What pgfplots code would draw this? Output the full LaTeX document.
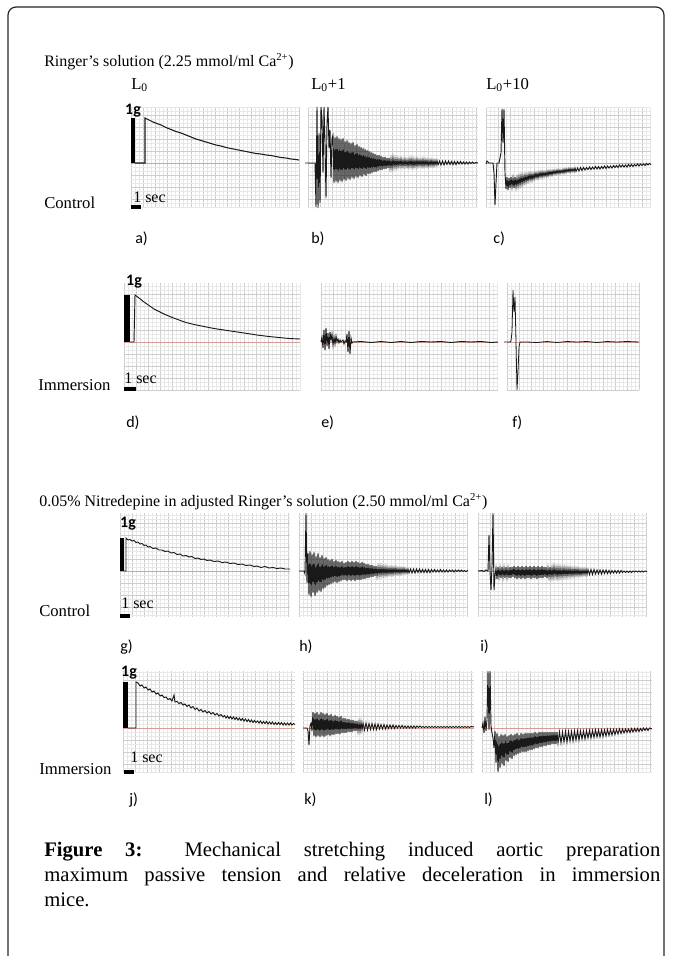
\documentclass[border=0pt]{standalone}
\usepackage{fontspec}
\setmainfont{Liberation Serif}
\newfontfamily\calib{Carlito}
\usepackage{pgfplots}
\pgfplotsset{compat=1.18}
\definecolor{gridmaj}{RGB}{205,205,205}
\definecolor{gridmin}{RGB}{232,232,232}
\definecolor{basered}{RGB}{212,160,145}
\definecolor{trace}{RGB}{25,25,25}
\pgfplotsset{panel/.style={scale only axis, anchor=north west, clip=false,
  axis line style={draw=none}, tick style={draw=none}, major tick length=0pt, minor tick length=0pt,
  xticklabels={}, yticklabels={}, grid=both, xtick distance=12, ytick distance=12, minor tick num=2,
  major grid style={draw=gridmaj, line width=0.5pt}, minor grid style={draw=gridmin, line width=0.35pt},
  xmin=0}}
\tikzset{lab/.style={inner sep=0pt, anchor=west}}
\begin{document}
\begin{tikzpicture}[x=0.75pt,y=-0.75pt]
\path[use as bounding box] (0,0) rectangle (672,956);
\draw[line width=0.9pt, black!85, rounded corners=6pt] (8,956) -- (8,7) -- (664,7) -- (664,956);

% ================= panel a
\begin{axis}[panel, at={(98.25pt,-80.25pt)}, width=126pt, height=75.75pt, xmax=168, ymin=-45, ymax=56]
\addplot[basered, line width=0.5pt] coordinates {(0,0)(168,0)};
\addplot[black, line width=3pt] coordinates {(2,0)(2,45)};
\addplot[black, line width=3pt] coordinates {(0,-44)(10,-44)};
\addplot[trace, line width=0.8pt] coordinates {(4,0)(14,0)(14,45)(18,43)(22,41)(26,39.5)(30,38)(35,35.5)(40,33.5)(45,31.5)(50,30)(55,28)(60,26)(65,24)(70,22.5)(75,21)(80,19.5)(85,18)(90,17)(95,15.5)(100,14.5)(105,13.5)(110,12.5)(115,11.5)(120,10.5)(125,9.5)(130,9)(135,8)(140,7.5)(145,6.5)(150,5.5)(155,5)(160,4)(165,3.5)(168,3)};
\end{axis}
% ================= panel b
\begin{axis}[panel, at={(231pt,-80.25pt)}, width=127.5pt, height=75.75pt, xmax=170, ymin=-45, ymax=56]
\addplot[basered, line width=0.5pt] coordinates {(0,0)(170,0)};
\addplot[trace, line width=0.7pt] coordinates {(-3,0)(7,0)(8,-44)(9,56)(10,-45)(11,30)(12,-40)(13,56)(14,45)(15,-10)(16,56)(17,20)(18,-35)(19,40)(20,56)(21,15)(22,33)(23,-15)(24,25)
(25,28)(26,-20)(27,26)(28,-19)(29,27)(30,-20)(31,25)(32,-18)(33,24)(34,-19)(35,25)(36,-17)(37,22)(38,-18)(39,23)(40,-16)(41,21)(42,-17)(43,20)(44,-15)(45,21)(46,-16)(47,18)(48,-14)(49,19)(50,-15)(51,17)(52,-13)(53,16)(54,-14)(55,15)(56,-12)(57,14)(58,-13)(59,13)(60,-11)(61,12)(62,-11)(63,11)(64,-10)(65,10)(66,-9)(67,9)(68,-9)(69,8)(70,-8)(71,8)(72,-7)(73,7)(74,-7)(75,6)(76,-6)(77,6)(78,-6)(79,5)(80,-5)(81,5)(82,-5)(83,4)(84,-5)(85,5)(86,-4)(87,4)(88,-4)(89,4)
(90,-3.5)(91,3.5)(92,-3)(93,4)(94,-3.5)(95,3)(96,-3)(97,3.5)(98,-3)(99,3)(100,-3.5)(101,3.5)(102,-3)(103,4)(104,-3.5)(105,3.5)(106,-3.5)(107,3)(108,-3)(109,3.5)(110,-3)(111,3)(112,-2.5)(113,3)(114,-3)(115,3.5)(116,-3)(117,3)(118,-2.5)(119,3)(120,-3)(121,2.5)(122,-2.5)(123,3)(124,-2.5)(125,2.5)(126,-2.5)(127,2.5)(128,-2)(129,2.5)(130,-2)
(131.5,2)(133,-2)(134.5,2)(136,-2)(137.5,2)(139,-1.5)(140.5,2)(142,-1.5)(143.5,1.5)(145,-1.5)(146.5,1.5)(148,-1.5)(149.5,1.5)(151,-1)(152.5,1.5)(154,-1)(155.5,1)(157,-1)(158.5,1)(160,-1)(161.5,1)(163,-0.5)(164.5,1)(166,-0.5)(167.5,0.5)(170,0)};
\end{axis}
% ================= panel c
\begin{axis}[panel, at={(364.5pt,-80.25pt)}, width=123.75pt, height=75.75pt, xmax=165, ymin=-45, ymax=56]
\addplot[basered, line width=0.5pt] coordinates {(0,0)(165,0)};
\addplot[trace, line width=0.7pt] coordinates {(0,-1)(1,2)(3,0)(7,0)(8,-10)(9,-42)(10,-20)(11,0)(13,0)(15,10)(16,54)(17,20)(18,54)(19,-10)
(20,-26)(21,-14)(22,-27)(23,-15)(24,-25)(25,-14)(26,-24)(27,-15)(28,-25)(29,-14)(30,-24)(31,-15)(32,-23)(33,-14)(34,-22)(35,-13)(36,-21)(37,-13)(38,-20)(39,-12)(40,-19)(41,-12)(42,-18)(43,-11)(44,-17)(45,-11)(46,-17)(47,-11)(48,-16)(49,-10)(50,-15)(51,-10)(52,-15)(53,-9.5)(54,-14)(55,-9)(56,-14)(57,-9)(58,-13.5)(59,-9)(60,-13)(61,-8.5)(62,-13)(63,-8)(64,-12)(65,-8)(66,-12)(67,-7.5)(68,-11)(69,-7.5)(70,-11)(71,-7)(72,-10.5)(73,-7)(74,-10.5)(75,-7)(76,-10)(77,-6.5)(78,-10)(79,-6)(80,-9.5)(81,-6)(82,-9)(83,-5.5)(84,-9)(85,-5.5)(86,-8.5)(87,-5.5)(88,-8.5)(89,-5)(90,-8.5)(91.5,-5)(93,-8)(94.5,-4.5)(96,-7.5)(97.5,-4.5)(99,-7)(100.5,-4.5)(102,-6.5)(103.5,-4)(105,-6.5)(106.5,-4)(108,-6)(109.5,-3.5)(111,-6)(112.5,-3.5)(114,-6)(115.5,-3.5)(117,-5.5)(118.5,-3)(120,-5.5)(121.5,-3)(123,-5)(124.5,-3)(126,-5)(127.5,-2.5)(129,-4.5)(130.5,-2.5)(132,-4.5)(133.5,-2)(135,-4)(136.5,-2)(138,-4)(139.5,-2)(141,-4)(142.5,-1.5)(144,-3.5)(145.5,-1.5)(147,-3.5)(148.5,-1.5)(150,-3)(151.5,-1)(153,-3)(154.5,-1)(156,-2.5)(157.5,-1)(159,-2.5)(160.5,-0.5)(162,-2)(163.5,-0.5)(165,-1.5)};
\end{axis}
% ================= panel d
\begin{axis}[panel, at={(93pt,-212.25pt)}, width=132pt, height=80.25pt, xmax=176, ymin=-48, ymax=59]
\addplot[basered, line width=0.5pt] coordinates {(0,0)(176,0)};
\addplot[black, line width=4.5pt] coordinates {(3,0)(3,47)};
\addplot[black, line width=3pt] coordinates {(0,-47)(12,-47)};
\addplot[trace, line width=0.7pt] coordinates {(6,0)(10,0)(11,47)(15,44)(20,40)(25,36.5)(30,33)(35,30.5)(40,28)(47,25)(55,22)(62,19.5)(70,17.5)(80,15.5)(90,13.5)(100,12)(110,10.5)(120,9)(133,7)(145,5.5)(155,4.5)(165,3.5)(176,3)};
\end{axis}
% ================= panel e
\begin{axis}[panel, at={(240.75pt,-212.25pt)}, width=132.75pt, height=80.25pt, xmax=177, ymin=-48, ymax=59]
\addplot[basered, line width=0.5pt] coordinates {(0,0)(177,0)};
\addplot[trace, line width=0.7pt] coordinates {(0,0)(1,5)(2,-6)(3,12)(4,-8)(5,14)(6,-4)(7,9)(8,-7)(9,10)(10,2)(11,8)(12,-3)(13,5)(14,-2)(15,6)(16,0)(17,3)(18,-1)(19,2)(20,0)(22,2)(23,-2)(24,1)(25,0)(26,8)(27,-10)(28,11)(29,-12)(30,4)(31,-1)(32,0)(40,0.5)(50,-0.5)(60,0.5)(70,-0.5)(80,0.5)(90,-0.5)(100,0.5)(110,0)(120,0.5)(130,-0.5)(140,0.5)(150,0)(160,0.5)(170,-0.5)(177,0)};
\end{axis}
% ================= panel f
\begin{axis}[panel, at={(380.25pt,-212.25pt)}, width=99pt, height=80.25pt, xmax=132, ymin=-48, ymax=59]
\addplot[basered, line width=0.5pt] coordinates {(0,0)(132,0)};
\addplot[trace, line width=0.6pt] coordinates {(-3,0)(3,0)(4,1)(5,10)(6,52)(7,30)(8,45)(9,0)(10,-48)(11,-30)(12,-5)(13,0)(20,0)(30,-0.5)(40,0.5)(50,-0.5)(60,0.5)(70,0)(80,0.5)(90,-0.5)(100,0.5)(110,0)(120,0.5)(132,0)};
\end{axis}
% ================= panel g
\begin{axis}[panel, at={(90pt,-384.75pt)}, width=127.5pt, height=78pt, xmax=170, ymin=-46, ymax=58]
\addplot[basered, line width=0.5pt] coordinates {(0,0)(170,0)};
\addplot[black, line width=3pt] coordinates {(2,0)(2,33)};
\addplot[black, line width=3pt] coordinates {(0,-45)(10,-45)};
\addplot[trace, line width=0.7pt] coordinates {(4,0)(6,0)(6,33)(8,31)(10,31.5)(12,30)(14,30.5)(16,28.5)(18,29)(20,27)(22,27.5)(24,25.5)(26,26)(28,24)(30,24.5)(33,22.5)(36,23)(39,21)(42,21)(45,19.5)(48,20)(51,18)(54,18.5)(57,16.5)(60,17)(63,15)(66,15.5)(69,14)(72,14.5)(75,12.5)(78,13)(81,11.5)(84,12)(87,10.5)(90,11)(94,9.5)(98,10)(102,8.5)(106,9)(110,7.5)(114,8)(118,6.5)(122,7)(126,5.5)(130,6)(134,4.5)(137,5)(141,3.5)(145,4.5)(149,3)(153,3.5)(157,2.5)(161,3)(165,2)(170,2)};
\end{axis}
% ================= panel h
\begin{axis}[panel, at={(224.25pt,-384.75pt)}, width=126.75pt, height=78pt, xmax=169, ymin=-46, ymax=58]
\addplot[basered, line width=0.5pt] coordinates {(0,0)(169,0)};
\addplot[trace, line width=0.7pt] coordinates {(0,0)(5,0)(6,-3)(7,58)(8,-12)(9,18)(10,-24)(11,20)(12,-26)(13,17)(14,-22)(15,19)(16,-25)(17,15)(18,-22)(19,18)(20,-20)(21,14)(22,-21)(23,16)(24,-18)(25,13)(26,-17)(27,14)(28,-15)(29,12)(30,-14)(31,11)(32,-13)(33,12)(34,-12)(35,10)(36,-11)(37,11)(38,-12)(39,10)(40,-11)(41,9)(42,-10)(43,10)(44,-9)(45,8)(46,-9)(47,9)(48,-10)(49,10)(50,-9)(51,9)(52,-10)(53,10)(54,-9)(55,9)(56,-10)(57,10)(58,-9)(59,9)(60,-9)(61,8)(62,-9)(63,9)(64,-8)(65,8)(66,-8)(67,7)(68,-7)(69,7)(70,-7)(71,6)(72,-6)(73,6)(74,-6)(75,5)(76,-5)(77,5)(78,-5)(79,4)
(80,-4)(81,4)(82,-4)(83,4)(84,-3.5)(85,3.5)(86,-3.5)(87,3.5)(88,-3.5)(89,3)(90,-3)(91,3)(92,-3)(93,3)(94,-3)(95,3)(96,-2.5)(97,3)(98,-2.5)(99,2.5)(100,-2.5)(101,2.5)(102,-2.5)(103,2.5)(104,-2)(105,2.5)(106,-2)(107,2)(108,-2)(109,2)(110,-2)
(111.5,2)(113,-2)(114.5,2)(116,-2)(117.5,2)(119,-1.5)(120.5,2)(122,-1.5)(123.5,1.5)(125,-1.5)(126.5,1.5)(128,-1.5)(129.5,1.5)(131,-1.5)(132.5,1.5)(134,-1)(135.5,1.5)(137,-1)(138.5,1)(140,-1)(141.5,1.5)(143,-1)(144.5,1)(146,-1)(147.5,1)(149,-1)(150.5,1)(152,-0.5)(153.5,1)(155,-1)(156.5,1)(158,-0.5)(159.5,1)(161,-0.5)(162.5,1)(164,-0.5)(165.5,0.5)(167,-0.5)(169,0.5)};
\end{axis}
% ================= panel i
\begin{axis}[panel, at={(358.5pt,-384.75pt)}, width=126.75pt, height=78pt, xmax=169, ymin=-46, ymax=58]
\addplot[basered, line width=0.5pt] coordinates {(0,0)(169,0)};
\addplot[trace, line width=0.7pt] coordinates {(0,0)(4,0.5)(6,-0.5)(8,1)(10,0)(11,36)(12,0)(13,-19)(14,5)(15,58)(16,-19)(17,-5)(18,3)(19,-8)(20,4)(21,-6)(22,3)(23,-7)(24,4)(25,-6)(26,3)(27,-7)(28,4)(29,-6)(30,3)(31,-7)(32,4)(33,-7)(34,4)(35,-6)(36,5)(37,-7)(38,4)(39,-8)(40,5)(41,-7)(42,4)(43,-8)(44,5)(45,-7)(46,4)(47,-8)(48,5)(49,-7)(50,4)(51,-7)(52,5)(53,-8)(54,4)(55,-7)(56,5)(57,-7)(58,4)(59,-8)(60,5)(61,-7)(62,4)(63,-7)(64,5)(65,-7)(66,4)(67,-6)(68,4)(69,-7)(70,3)(71,-6)(72,4)(73,-6)(74,3)(75,-6)(76,4)(77,-5)(78,3)(79,-6)
(80,3)(81,-5.5)(82,3)(83,-5.5)(84,2.5)(85,-5)(86,3)(87,-5)(88,2.5)(89,-5)(90,2.5)(91,-4.5)(92,2.5)(93,-4.5)(94,2)(95,-4.5)(96,2)(97,-4)(98,2)(99,-4)(100,2)(101,-4)(102,1.5)(103,-4)(104,1.5)(105,-3.5)(106,1.5)(107,-3.5)(108,1.5)(109,-3.5)(110,1.5)
(111.5,-3.5)(113,1.5)(114.5,-3.5)(116,1.5)(117.5,-3)(119,1)(120.5,-3)(122,1)(123.5,-3)(125,1)(126.5,-2.5)(128,1)(129.5,-2.5)(131,0.5)(132.5,-2.5)(134,0.5)(135.5,-2)(137,0.5)(138.5,-2)(140,0.5)(141.5,-2)(143,0.5)(144.5,-1.5)(146,0)(147.5,-1.5)(149,0)(150.5,-1.5)(152,0)(153.5,-1.5)(155,0)(156.5,-1)(158,0)(159.5,-1)(161,0)(162.5,-1)(164,0)(165.5,-1)(167,0)(169,-0.5)};
\end{axis}
% ================= panel j
\begin{axis}[panel, at={(92.25pt,-503.25pt)}, width=129pt, height=76.5pt, xmax=172, ymin=-45, ymax=57]
\addplot[basered, line width=0.5pt] coordinates {(0,0)(172,0)};
\addplot[black, line width=3.5pt] coordinates {(2.5,0)(2.5,46)};
\addplot[black, line width=3pt] coordinates {(1,-44)(11,-44)};
\addplot[trace, line width=0.7pt] coordinates {(5,0)(13,0)(13,46)(15,45)(17,42)(19,43)(21,40)(23,41)(25,38)(27,39)(29,36)(31,37)(33,34)(35,35)(37,32)(39,33)(41,30.5)(43,31)(45,28.5)(47,29.5)(49,27)(51,33)(52,26)(54,26.5)(56,24.5)(58,25.5)(60,23)(62,24)(64,21.5)(66,23)(68,20)(70,21.5)(72,18.5)(74,20)(76,17)(78,18.5)(80,16)(82,17.5)(84,15)(86,16.5)(88,14)(90,15.5)(92,13)(94,14.5)(96,12)(98,13.5)(100,11)(101.5,12.5)(103,10)(104.5,12)(106,9.5)(107.5,11.5)(109,9)(110.5,11)(112,8.5)(113.5,10.5)(115,8)(116.5,10)(118,7.5)(119.5,9.5)(121,7)(122.5,9)(124,6.5)(125.5,8.5)(127,6)(128.5,8)(130,5.5)(131.5,7.5)(133,5.5)(134.5,7)(136,5)(137.5,7)(139,4.5)(140.5,6.5)(142,4.5)(143.5,6.5)(145,4)(146.5,6)(148,4)(149.5,6)(151,3.5)(152.5,5.5)(154,3.5)(155.5,5.5)(157,3.5)(158.5,5.5)(160,3)(161.5,5)(163,3)(164.5,5)(166,3)(167.5,5)(169,3)(170.5,4.5)(172,3.5)};
\end{axis}
% ================= panel k
\begin{axis}[panel, at={(227.25pt,-503.25pt)}, width=128.25pt, height=76.5pt, xmax=171, ymin=-45, ymax=57]
\addplot[basered, line width=0.5pt] coordinates {(0,0)(171,0)};
\addplot[trace, line width=0.7pt] coordinates {(0,0)(4,0)(5,-3)(6,-17)(7,2)(8,5)(9,-3)(10,16)(11,-8)(12,15)(13,-9)(14,16)(15,-8)(16,14)(17,-9)(18,16)(19,-8)(20,15)(21,-9)(22,14)(23,-8)(24,15)(25,-7)(26,13)(27,-8)(28,14)(29,-7)(30,12)(31,-7)(32,13)(33,-6)(34,12)(35,-6)(36,11)(37,-6)(38,12)(39,-5)(40,10)(41,-5)(42,10)(43,-5)(44,9)(45,-4)(46,9)(47,-4)(48,8)(49,-4)(50,8)(51,-3)(52,7)(53,-3)(54,7)(55,-3)(56,6)(57,-3)(58,6)(59,-2)
(60,5)(61.5,-2)(63,5)(64.5,-2)(66,4.5)(67.5,-1.5)(69,4.5)(70.5,-1.5)(72,4)(73.5,-1.5)(75,4)(76.5,-1)(78,3.5)(79.5,-1)(81,3.5)(82.5,-1)(84,3)(85.5,-0.5)(87,3)(88.5,-0.5)(90,3)(91.5,-0.5)(93,2.5)(94.5,0)(96,2.5)(97.5,0)(99,2.5)(100.5,0)(102,2)(103.5,0)(105,2)(106.5,0)(108,2)(109.5,0)(111,2)(112.5,0)(114,2)(115.5,0.5)(117,2)(118.5,0.5)(120,1.5)(121.5,0.5)(123,1.5)(124.5,0.5)(126,1.5)(127.5,0.5)(129,1.5)(130.5,0.5)(132,1.5)(133.5,0.5)(135,1.5)(136.5,0.5)(138,1.5)(139.5,0.5)(141,1.5)(142.5,0.5)(144,1.5)(145.5,0.5)(147,1.5)(148.5,0.5)(150,1.5)(151.5,0.5)(153,1.5)(154.5,0.5)(156,1.5)(157.5,0.5)(159,1.5)(160.5,0.5)(162,1.5)(163.5,0.5)(165,1.5)(166.5,0.5)(168,1.5)(171,1)};
\end{axis}
% ================= panel l
\begin{axis}[panel, at={(361.5pt,-503.25pt)}, width=127.5pt, height=76.5pt, xmax=170, ymin=-45, ymax=57]
\addplot[basered, line width=0.5pt] coordinates {(0,0)(170,0)};
\addplot[trace, line width=0.7pt] coordinates {(0,0)(1,5)(2,-5)(3,11)(4,-3)(5,8)(6,57)(7,-2)(8,57)(9,2)(10,-5)(11,-10)(12,-20)(13,-3)(14,-35)(15,-5)(16,-44)(17,-8)(18,-40)(19,-6)(20,-36)(21,-7)(22,-38)(23,-6)(24,-33)(25,-8)(26,-34)(27,-7)(28,-30)(29,-6)(30,-31)(31,-7)(32,-28)(33,-6)(34,-27)(35,-5)(36,-26)(37,-7)(38,-25)(39,-5)(40,-24)(41,-6)(42,-24)(43,-5)(44,-24)(45,-5)(46,-23)(47,-5)(48,-22)(49,-5)(50,-22)(51,-5)(52,-21)(53,-4)(54,-20)(55,-5)(56,-20)(57,-4)(58,-19)(59,-4)(60,-19)(61,-4)(62,-18)(63,-4)(64,-18)(65,-4)(66,-17)(67,-4)(68,-17)(69,-4)(70,-16)(71,-4)(72,-16)(73,-4)(74,-16)(75,-4)
(76,-15)(77.5,-4)(79,-15)(80.5,-4)(82,-14)(83.5,-3.5)(85,-14)(86.5,-3.5)(88,-13)(89.5,-3.5)(91,-13)(92.5,-3)(94,-12)(95.5,-3)(97,-12)(98.5,-3)(100,-11)(101.5,-3)(103,-11)(104.5,-2.5)(106,-10)(107.5,-2.5)(109,-10)(110.5,-2.5)(112,-9.5)(113.5,-2)(115,-9)(116.5,-2)(118,-9)(119.5,-2)(121,-8.5)(122.5,-2)(124,-8)(125.5,-1.5)(127,-7.5)(128.5,-1.5)(130,-7)(131.5,-1.5)(133,-6.5)(134.5,-1.5)(136,-6)(137.5,-1)(139,-5.5)(140.5,-1)(142,-5)(143.5,-1)(145,-4.5)(146.5,-1)(148,-4.5)(149.5,-0.5)(151,-4)(152.5,-0.5)(154,-3.5)(155.5,-0.5)(157,-3.5)(158.5,-0.5)(160,-3)(161.5,0)(163,-2.5)(164.5,0)(166,-2.5)(167.5,0)(170,-1)};
\end{axis}

% ---------- titles and labels (drawn on top)
\node[lab, font=\fontsize{12}{14}\selectfont] at (44,62) {Ringer's solution (2.25 mmol/ml Ca\textsuperscript{2+})};
\node[lab, font=\fontsize{12.5}{15}\selectfont] at (131,85) {L\textsubscript{0}};
\node[lab, font=\fontsize{12.5}{15}\selectfont] at (311,85) {L\textsubscript{0}+1};
\node[lab, font=\fontsize{12.5}{15}\selectfont] at (486,85) {L\textsubscript{0}+10};
\node[lab, font=\fontsize{12.5}{15}\selectfont] at (44,203) {Control};
\node[lab, font=\fontsize{12.5}{15}\selectfont] at (38,385) {Immersion};
\node[lab, font=\fontsize{12}{14}\selectfont] at (39,502) {0.05\% Nitredepine in adjusted Ringer's solution (2.50 mmol/ml Ca\textsuperscript{2+})};
\node[lab, font=\fontsize{12.5}{15}\selectfont] at (39,611) {Control};
\node[lab, font=\fontsize{12.5}{15}\selectfont] at (39,769) {Immersion};
\node[inner sep=0pt, font=\calib\bfseries\fontsize{12}{14}\selectfont] at (133,111) {1g};
\node[inner sep=0pt, font=\calib\bfseries\fontsize{12}{14}\selectfont] at (134,282) {1g};
\node[inner sep=0pt, font=\calib\bfseries\fontsize{12}{14}\selectfont] at (128,524) {1g};
\node[inner sep=0pt, font=\calib\bfseries\fontsize{12}{14}\selectfont] at (129,673) {1g};
\node[lab, font=\fontsize{12}{14}\selectfont] at (133,197) {1 sec};
\node[lab, font=\fontsize{12}{14}\selectfont] at (124,378) {1 sec};
\node[lab, font=\fontsize{12}{14}\selectfont] at (121,603) {1 sec};
\node[lab, font=\fontsize{12}{14}\selectfont] at (130,757) {1 sec};
\foreach \t/\x/\y in {a)/135/239, b)/311/239, c)/493/239, d)/126/423, e)/321/423, f)/512/423, g)/120/647, h)/299/647, i)/480/647, j)/129/800, k)/304/800, l)/484/800}
  \node[lab, font=\calib\fontsize{12}{14}\selectfont] at (\x,\y) {\t};
\node[lab, font=\fontsize{15.5}{18}\selectfont] at (44,852) {\makebox[462pt][s]{\textbf{Figure 3:} Mechanical stretching induced aortic preparation}};
\node[lab, font=\fontsize{15.5}{18}\selectfont] at (44,877) {\makebox[462pt][s]{maximum passive tension and relative deceleration in immersion}};
\node[lab, font=\fontsize{15.5}{18}\selectfont] at (44,900) {mice.};
\end{tikzpicture}
\end{document}
